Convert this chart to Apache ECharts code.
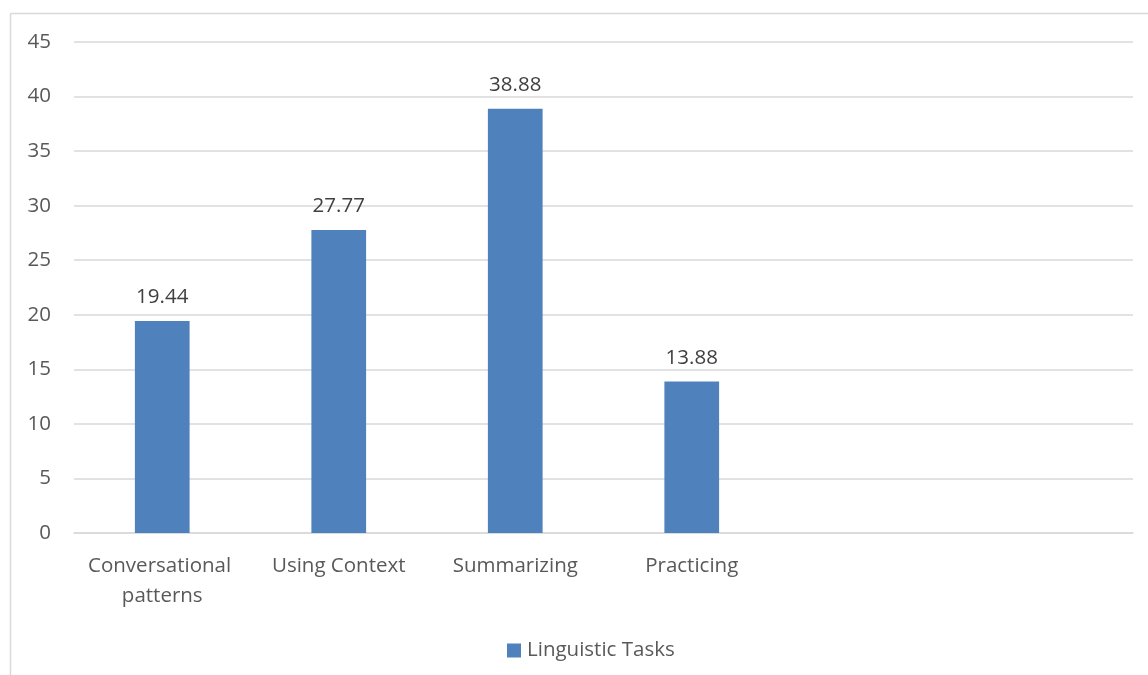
<!DOCTYPE html>
<html>
<head>
<meta charset="utf-8">
<script src="https://cdn.jsdelivr.net/npm/echarts@6/dist/echarts.min.js"></script>
<style>html,body{margin:0;padding:0;background:#fff}#c{width:1148px;height:675px}</style>
</head>
<body>
<div id="c"></div>
<script>
const categories = ["Conversational patterns", "Using Context", "Summarizing", "Practicing", "", ""];
const seriesName = "Linguistic Tasks";
const values = [19.44, 27.77, 38.88, 13.88, null, null];
const yTicks = { min: 0, max: 45, interval: 5 };

const chart = echarts.init(document.getElementById('c'), null, { renderer: 'canvas' });
const font = '"Open Sans", "Liberation Sans", sans-serif';
chart.setOption({
  animation: false,
  backgroundColor: '#ffffff',
  graphic: [
    { type: 'line', shape: { x1: 10.5, y1: 13.5, x2: 1148, y2: 13.5 }, style: { stroke: '#d9d9d9', lineWidth: 1.5 } },
    { type: 'line', shape: { x1: 10.5, y1: 13.5, x2: 10.5, y2: 675 }, style: { stroke: '#d9d9d9', lineWidth: 1.5 } }
  ],
  grid: { left: 74, right: 15, top: 42, bottom: 142, containLabel: false },
  legend: {
    bottom: 14, left: 507, padding: 0,
    itemWidth: 14, itemHeight: 14, itemGap: 10,
    icon: 'rect',
    textStyle: { color: '#595959', fontSize: 20.5, fontFamily: font, padding: [0, 0, 0, 1] },
    data: [seriesName]
  },
  xAxis: {
    type: 'category',
    data: categories,
    axisLine: { lineStyle: { color: '#d9d9d9', width: 1.5 } },
    axisTick: { show: false },
    axisLabel: {
      interval: 0, color: '#595959', fontSize: 20.5, fontFamily: font,
      margin: 18, lineHeight: 30, width: 170, overflow: 'break'
    }
  },
  yAxis: {
    type: 'value',
    min: yTicks.min, max: yTicks.max, interval: yTicks.interval,
    axisLine: { show: false },
    axisTick: { show: false },
    splitLine: { lineStyle: { color: '#d9d9d9', width: 1.5 } },
    axisLabel: { color: '#595959', fontSize: 20.5, fontFamily: font, margin: 23 }
  },
  series: [{
    name: seriesName,
    type: 'bar',
    data: values,
    barWidth: '31%',
    itemStyle: { color: '#4f81bd' },
    label: {
      show: true, position: 'top', distance: 13,
      color: '#404040', fontSize: 20.5, fontFamily: font
    }
  }]
});
</script>
</body>
</html>
